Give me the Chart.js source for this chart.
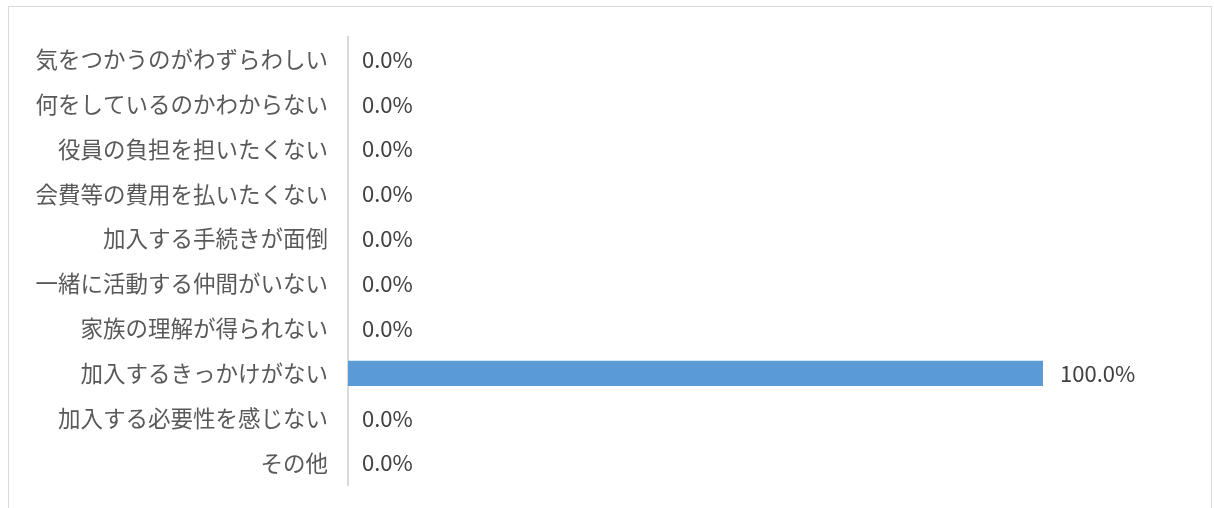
<!DOCTYPE html>
<html lang="ja">
<head>
<meta charset="utf-8">
<script src="https://cdn.jsdelivr.net/npm/chart.js@4.4.1/dist/chart.umd.min.js"></script>
<style>
  body { margin: 0; background: #fff; overflow: hidden; }
  .chart-container {
    position: absolute; left: 8px; top: 6px;
    width: 1202px; height: 520px;
    border: 1px solid #d9d9d9; background: #fff;
  }
</style>
</head>
<body>
<div class="chart-container">
  <canvas id="reason-chart" width="1202" height="504"></canvas>
</div>
<script>
const categories = [
  '気をつかうのがわずらわしい',
  '何をしているのかわからない',
  '役員の負担を担いたくない',
  '会費等の費用を払いたくない',
  '加入する手続きが面倒',
  '一緒に活動する仲間がいない',
  '家族の理解が得られない',
  '加入するきっかけがない',
  '加入する必要性を感じない',
  'その他'
];
const percentages = [0, 0, 0, 0, 0, 0, 0, 100, 0, 0];

const fontFamily = '"Noto Sans CJK JP", "Noto Sans", sans-serif';

// draw "0.0%" style labels to the right of each bar
const valueLabels = {
  id: 'valueLabels',
  afterDatasetsDraw(chart) {
    const { ctx } = chart;
    const meta = chart.getDatasetMeta(0);
    ctx.save();
    ctx.font = `22px ${fontFamily}`;
    ctx.fillStyle = '#404040';
    ctx.textBaseline = 'middle';
    ctx.textAlign = 'left';
    meta.data.forEach((bar, i) => {
      const x = percentages[i] > 0 ? bar.x + 17 : chart.chartArea.left + 14;
      ctx.fillText(percentages[i].toFixed(1) + '%', x, bar.y);
    });
    ctx.restore();
  }
};

new Chart(document.getElementById('reason-chart').getContext('2d'), {
  type: 'bar',
  data: {
    labels: categories,
    datasets: [{
      data: percentages,
      backgroundColor: '#5b9bd5',
      borderWidth: 0,
      categoryPercentage: 1,
      barPercentage: 0.56
    }]
  },
  options: {
    indexAxis: 'y',
    responsive: false,
    animation: false,
    layout: { padding: { top: 30, right: 168, bottom: 11, left: 0 } },
    scales: {
      x: {
        display: false,
        min: 0,
        max: 100
      },
      y: {
        afterFit: scale => { scale.width = 339; },
        grid: { display: false },
        border: { display: true, color: '#d9d9d9', width: 2 },
        ticks: {
          padding: 12,
          color: '#595959',
          font: { family: fontFamily, size: 22.5 }
        }
      }
    },
    plugins: {
      legend: { display: false },
      tooltip: { enabled: false }
    }
  },
  plugins: [valueLabels]
});
</script>
</body>
</html>
